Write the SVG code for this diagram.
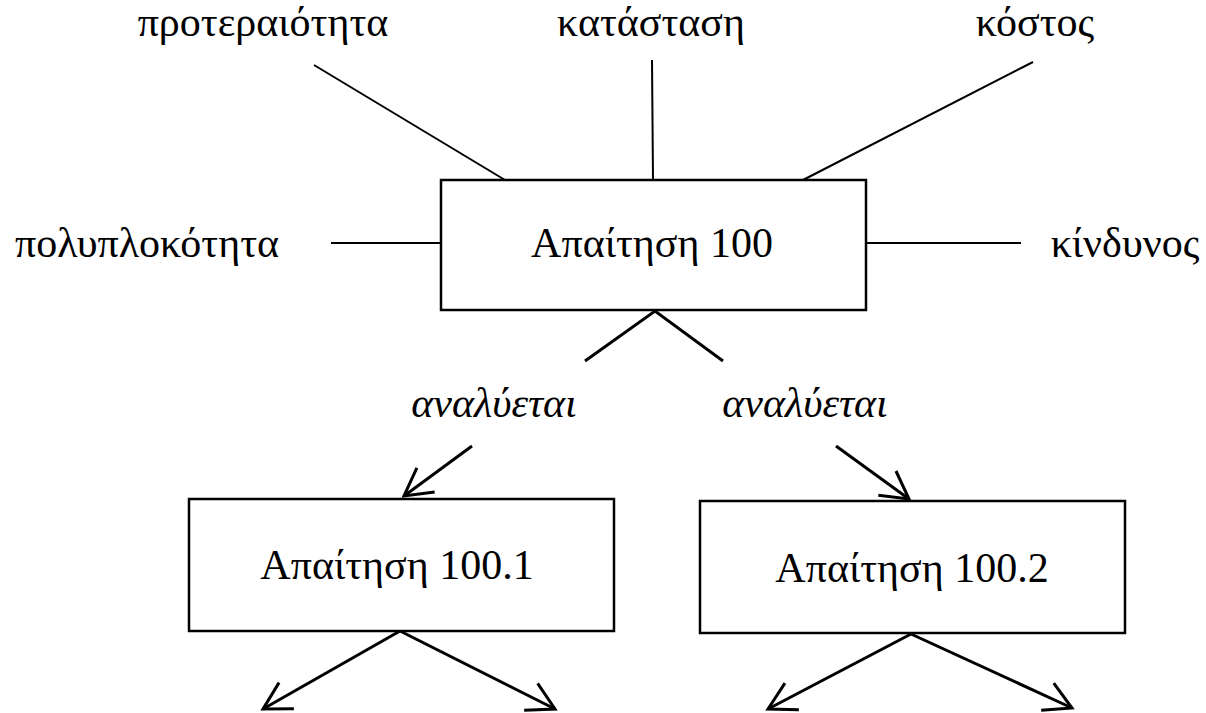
<svg xmlns="http://www.w3.org/2000/svg" width="1206" height="713" viewBox="0 0 1206 713">
<style>
.box{fill:#fff;stroke:#000;stroke-width:2.5}
.t{font-family:"Liberation Serif","Times New Roman",serif;font-size:42px;fill:#000}
.lbl{font-family:"Liberation Serif","Times New Roman",serif;font-size:42px;fill:#000;font-style:italic}
.ln{stroke:#000;stroke-width:2;fill:none}
.ar{stroke:#000;stroke-width:3;fill:none}
.arh{stroke:#000;stroke-width:3;fill:none;marker-end:url(#head)}
</style>
<defs>
<marker id="head" markerUnits="userSpaceOnUse" viewBox="-30 -18 34 36" refX="0" refY="0" markerWidth="34" markerHeight="36" orient="auto" overflow="visible">
<path d="M-27,-15 L0,0 L-27,15" fill="none" stroke="#000" stroke-width="3"/>
</marker>
</defs>
<g id="connectors">
<line class="ln" x1="314" y1="65" x2="505" y2="180"/>
<line class="ln" x1="652" y1="60" x2="653" y2="180"/>
<line class="ln" x1="1033" y1="62" x2="803" y2="180"/>
<line class="ln" x1="331" y1="243" x2="441" y2="243"/>
<line class="ln" x1="866" y1="243" x2="1021" y2="243"/>
<polyline class="ar" points="585,361 655,311 723,361"/>
<line class="arh" x1="472" y1="446" x2="404" y2="496"/>
<line class="arh" x1="836" y1="446" x2="909" y2="499"/>
<line class="arh" x1="400" y1="631" x2="263" y2="709"/>
<line class="arh" x1="400" y1="631" x2="555" y2="709"/>
<line class="arh" x1="911" y1="634" x2="768" y2="709"/>
<line class="arh" x1="911" y1="634" x2="1072" y2="708"/>
</g>
<g id="lbl-left"><text class="lbl" x="494" y="417" text-anchor="middle">αναλύεται</text></g>
<g id="lbl-right"><text class="lbl" x="805" y="417" text-anchor="middle">αναλύεται</text></g>
<g id="attr-proteraiotita"><text class="t" x="263" y="36" text-anchor="middle">προτεραιότητα</text></g>
<g id="attr-katastasi"><text class="t" x="651" y="36" text-anchor="middle">κατάσταση</text></g>
<g id="attr-kostos"><text class="t" x="1035" y="36" text-anchor="middle">κόστος</text></g>
<g id="attr-polyplokotita"><text class="t" x="147" y="257" text-anchor="middle">πολυπλοκότητα</text></g>
<g id="attr-kindynos"><text class="t" x="1125" y="257" text-anchor="middle">κίνδυνος</text></g>
<g id="node-100">
<rect class="box" x="441" y="180" width="425" height="130"/>
<text class="t" x="652" y="257" text-anchor="middle">Απαίτηση 100</text>
</g>
<g id="node-100-1">
<rect class="box" x="189" y="499" width="425" height="132"/>
<text class="t" x="397" y="579" text-anchor="middle">Απαίτηση 100.1</text>
</g>
<g id="node-100-2">
<rect class="box" x="700" y="501" width="425" height="132"/>
<text class="t" x="912" y="582" text-anchor="middle">Απαίτηση 100.2</text>
</g>
</svg>
